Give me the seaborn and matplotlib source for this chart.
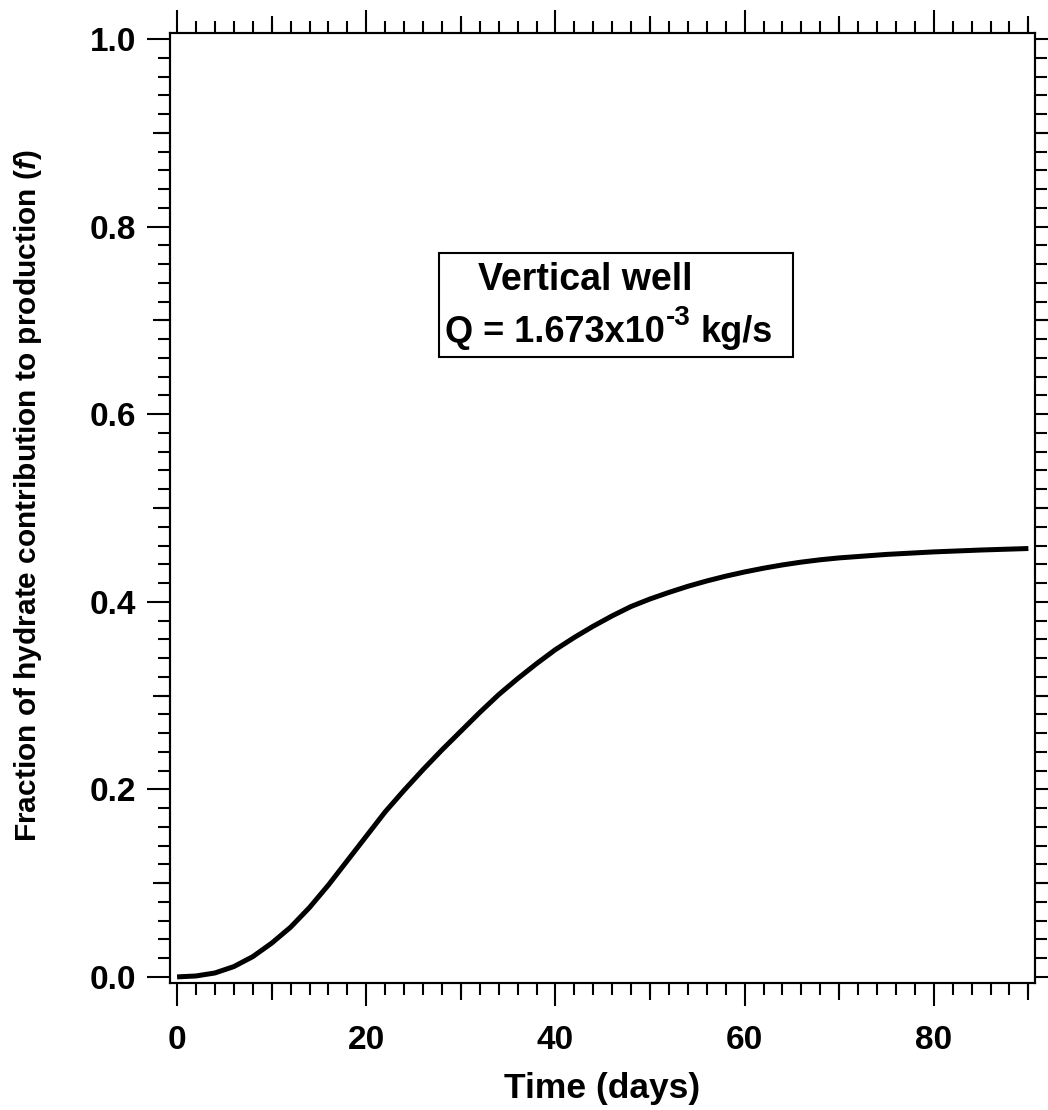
import matplotlib
matplotlib.use("Agg")
import matplotlib.pyplot as plt
import matplotlib.patches as mpatches
import numpy as np
import pandas as pd
import seaborn as sns

# Hydrate contribution to gas production over time (vertical well)
time_days = [0, 2, 4, 6, 8, 10, 12, 14, 16, 18, 20, 22, 24, 26, 28, 30, 32,
             34, 36, 38, 40, 42, 44, 46, 48, 50, 52, 54, 56, 58, 60, 62, 64,
             66, 68, 70, 75, 80, 85, 90]
fraction = [0.000, 0.001, 0.0042, 0.011, 0.0216, 0.036, 0.053, 0.074, 0.098,
            0.124, 0.150, 0.176, 0.199, 0.221, 0.242, 0.262, 0.282, 0.301,
            0.318, 0.334, 0.349, 0.362, 0.374, 0.385, 0.395, 0.403, 0.410,
            0.4165, 0.4222, 0.4273, 0.4318, 0.4358, 0.4393, 0.4423, 0.4448,
            0.4468, 0.4505, 0.4532, 0.4552, 0.4568]

x_major = [0, 20, 40, 60, 80]
x_mid = [10, 30, 50, 70, 90]
y_major = [0.0, 0.2, 0.4, 0.6, 0.8, 1.0]
y_mid = [0.1, 0.3, 0.5, 0.7, 0.9]
y_labels = ["0.0", "0.2", "0.4", "0.6", "0.8", "1.0"]

box_title = "Vertical well"
rate_base = "Q = 1.673x10"
rate_exp = "-3"
rate_unit = "kg/s"

df = pd.DataFrame({"time": time_days, "f": fraction})

sns.set_theme(style="ticks")
plt.rcParams["font.family"] = ["Liberation Sans", "DejaVu Sans"]
plt.rcParams["font.weight"] = "bold"
plt.rcParams["mathtext.fontset"] = "custom"
plt.rcParams["mathtext.rm"] = "Liberation Sans:bold"
plt.rcParams["mathtext.bf"] = "Liberation Sans:bold"
plt.rcParams["mathtext.it"] = "Liberation Sans:bold:italic"
plt.rcParams["axes.linewidth"] = 1.5
for key in ("text.color", "axes.labelcolor", "xtick.color", "ytick.color",
            "axes.edgecolor", "xtick.labelcolor", "ytick.labelcolor"):
    plt.rcParams[key] = "black"

fig = plt.figure(figsize=(10.48, 11.10), dpi=100)
ax = fig.add_axes([170 / 1048, 1 - 983 / 1110, 865 / 1048, 950 / 1110])

sns.lineplot(data=df, x="time", y="f", ax=ax, color="black", linewidth=3.6,
             estimator=None, sort=False, solid_joinstyle="round",
             solid_capstyle="butt")

ax.set_xlim(-0.75, 90.7)
ax.set_ylim(-0.0065, 1.0065)

ax.set_xticks(x_major)
ax.set_xticks(np.arange(0, 91, 2), minor=True)
ax.set_yticks(y_major)
ax.set_yticklabels(y_labels)
ax.set_yticks(np.arange(0, 1.001, 0.02), minor=True)

tick_kw = dict(direction="out", color="black", width=1.5)
ax.tick_params(axis="both", which="major", length=16.5, labelsize=24,
               top=True, right=True, **tick_kw)
ax.tick_params(axis="x", which="major", pad=14)
ax.tick_params(axis="y", which="major", pad=8)
ax.tick_params(axis="both", which="minor", length=8.5, top=True, right=True,
               **tick_kw)

# intermediate-length ticks at the decades and tenths
for loc in ("bottom", "top"):
    sec = ax.secondary_xaxis(loc)
    sec.set_xticks(x_mid)
    sec.tick_params(length=12, labelbottom=False, labeltop=False, **tick_kw)
for loc in ("left", "right"):
    sec = ax.secondary_yaxis(loc)
    sec.set_yticks(y_mid)
    sec.tick_params(length=12, labelleft=False, labelright=False, **tick_kw)

for lab in ax.get_xticklabels() + ax.get_yticklabels():
    lab.set_fontweight("bold")

ax.set_xlabel("Time (days)", fontsize=25.5, fontweight="bold")
ax.set_ylabel(r"Fraction of hydrate contribution to production ($\mathit{f}$)",
              fontsize=21.5, fontweight="bold")
ax.xaxis.set_label_coords(0.5, -0.0937)
ax.xaxis.label.set_va("top")
ax.yaxis.set_label_coords(-0.146, 0.513)

# annotation box
ax.add_patch(mpatches.Rectangle((0.311, 0.659), 0.409, 0.109,
                                transform=ax.transAxes, fill=False,
                                edgecolor="black", linewidth=1.5, zorder=3))
ax.text(0.356, 0.729, box_title, transform=ax.transAxes, fontsize=27,
        fontweight="bold", ha="left", va="baseline")
base_y = 0.675
t_base = ax.text(0.318, base_y, rate_base, transform=ax.transAxes,
                 fontsize=26, fontweight="bold", ha="left", va="baseline")
t_exp = ax.annotate(rate_exp, xy=(1.0, base_y), xycoords=(t_base, "axes fraction"),
                    xytext=(1, 17), textcoords="offset pixels", fontsize=20,
                    fontweight="bold", ha="left", va="baseline")
ax.annotate(rate_unit, xy=(1.0, base_y), xycoords=(t_exp, "axes fraction"),
            xytext=(10, 0), textcoords="offset pixels", fontsize=26,
            fontweight="bold", ha="left", va="baseline")

fig.savefig("out.png", dpi=100, facecolor="white")
